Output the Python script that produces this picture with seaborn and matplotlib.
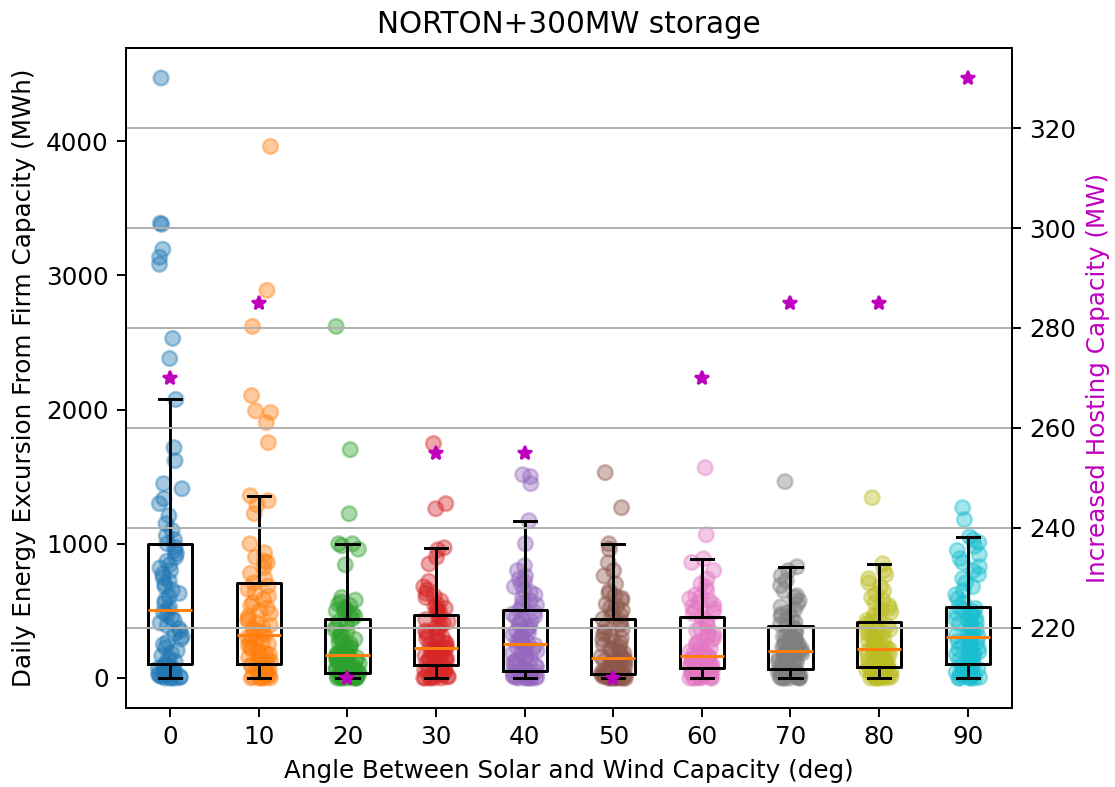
import numpy as np
import pandas as pd
import seaborn as sns
import matplotlib.pyplot as plt

# angle between solar and wind capacity (deg)
angles = [0, 10, 20, 30, 40, 50, 60, 70, 80, 90]

# increased hosting capacity per angle (MW)
hosting = [270, 285, 210, 255, 255, 210, 270, 285, 285, 330]

# daily energy excursion from firm capacity (MWh), one list per angle
exc_0 = [0, 0, 0, 0, 5, 8, 12, 15, 20, 25, 30, 38, 45, 50, 58, 65, 72, 80, 88, 96, 105,
         125, 145, 165, 185, 205, 225, 250, 270, 290, 310, 330, 350, 370, 390, 410, 430, 450, 470, 490, 507,
         530, 555, 580, 605, 630, 655, 680, 700, 725, 750, 775, 800, 820, 845, 870, 900, 925, 950, 975, 1000,
         1030, 1060, 1100, 1150, 1209, 1299, 1336, 1410, 1448, 1619, 1716, 2075,
         2380, 2530, 3082, 3134, 3194, 3380, 3388, 4470]
exc_10 = [0, 0, 0, 0, 0, 5, 10, 15, 20, 28, 35, 42, 50, 58, 65, 72, 80, 86, 92, 98, 104,
          115, 125, 135, 145, 155, 165, 175, 185, 195, 205, 215, 228, 240, 252, 264, 276, 288, 300, 310, 321,
          335, 350, 365, 380, 395, 410, 425, 440, 460, 480, 500, 520, 540, 560, 585, 610, 635, 660, 685, 709,
          740, 780, 820, 860, 870, 900, 933, 1000, 1224, 1290, 1321, 1358,
          1754, 1903, 1978, 1990, 2104, 2619, 2888, 3960]
exc_20 = [0, 0, 0, 0, 0, 0, 0, 2, 4, 6, 8, 10, 12, 15, 18, 21, 24, 27, 30, 34, 37,
          44, 51, 58, 65, 72, 79, 86, 93, 100, 108, 116, 124, 131, 138, 145, 151, 157, 162, 167, 172,
          182, 192, 202, 212, 222, 232, 242, 252, 264, 276, 288, 300, 315, 330, 345, 360, 380, 400, 420, 440,
          460, 470, 480, 490, 500, 510, 520, 540, 550, 567, 580, 600, 843, 960, 985, 1000, 1000,
          1224, 1701, 2619]
exc_30 = [0, 0, 0, 0, 0, 4, 8, 12, 17, 22, 28, 34, 40, 46, 52, 58, 64, 72, 80, 88, 97,
          104, 111, 118, 125, 132, 139, 146, 153, 160, 167, 174, 181, 188, 195, 202, 208, 213, 217, 221, 224,
          234, 244, 254, 264, 274, 284, 294, 304, 316, 328, 340, 352, 364, 376, 390, 405, 420, 435, 452, 470,
          490, 500, 510, 520, 530, 550, 575, 600, 610, 630, 657, 680, 720, 850, 900, 955, 970,
          1261, 1299, 1746]
exc_40 = [0, 0, 0, 0, 0, 0, 3, 6, 9, 12, 15, 18, 22, 26, 30, 34, 38, 42, 46, 49, 52,
          62, 72, 82, 92, 102, 112, 122, 132, 142, 152, 162, 172, 182, 192, 202, 212, 222, 232, 243, 254,
          265, 277, 289, 301, 313, 325, 337, 349, 361, 373, 385, 397, 410, 423, 436, 449, 462, 476, 491, 507,
          530, 545, 560, 575, 590, 620, 640, 650, 680, 700, 720, 739, 760, 800, 836, 1000, 1172,
          1448, 1500, 1515]
exc_50 = [0, 0, 0, 0, 0, 0, 0, 0, 2, 4, 6, 8, 10, 12, 14, 17, 20, 22, 25, 28, 30,
          36, 42, 48, 54, 60, 66, 72, 78, 84, 90, 96, 102, 108, 114, 120, 126, 132, 138, 144, 149,
          160, 172, 184, 196, 208, 220, 232, 244, 258, 272, 286, 300, 315, 330, 345, 362, 380, 400, 420, 440,
          460, 470, 490, 505, 520, 535, 550, 580, 595, 610, 630, 649, 700, 761, 800, 858, 960, 1000,
          1269, 1530]
exc_60 = [0, 0, 0, 0, 0, 0, 5, 10, 15, 20, 25, 30, 35, 40, 45, 50, 55, 60, 65, 70, 75,
          80, 85, 90, 95, 100, 105, 110, 115, 120, 125, 130, 135, 140, 144, 148, 152, 156, 159, 162, 164,
          175, 186, 197, 208, 220, 232, 244, 256, 270, 284, 298, 312, 326, 340, 355, 370, 388, 406, 430, 455,
          480, 490, 505, 515, 530, 545, 560, 575, 590, 605, 620, 649, 680, 700, 739, 800, 861, 888,
          1067, 1567]
exc_70 = [0, 0, 0, 0, 0, 0, 4, 8, 12, 16, 20, 25, 30, 35, 40, 45, 50, 55, 59, 63, 67,
          74, 81, 88, 95, 102, 109, 116, 123, 130, 137, 144, 151, 158, 165, 172, 179, 186, 192, 197, 201,
          208, 215, 222, 229, 236, 243, 250, 258, 266, 274, 282, 290, 299, 308, 318, 328, 340, 353, 370, 388,
          400, 415, 430, 445, 460, 475, 490, 510, 530, 550, 575, 600, 612, 650, 690, 724, 760, 800, 828,
          1463]
exc_80 = [0, 0, 0, 0, 0, 0, 5, 10, 15, 20, 26, 32, 38, 44, 50, 56, 62, 67, 72, 77, 82,
          89, 96, 103, 110, 117, 124, 131, 138, 145, 152, 159, 166, 173, 180, 187, 194, 201, 207, 212, 216,
          224, 232, 240, 248, 256, 264, 272, 281, 290, 299, 308, 318, 328, 338, 350, 362, 375, 389, 403, 418,
          430, 445, 460, 475, 490, 505, 520, 540, 560, 580, 600, 625, 650, 680, 710, 740, 770, 800, 851,
          1343]
exc_90 = [0, 0, 0, 0, 0, 5, 10, 15, 20, 26, 32, 38, 45, 52, 60, 68, 76, 84, 92, 98, 104,
          114, 124, 134, 144, 154, 164, 174, 184, 194, 204, 214, 224, 234, 244, 254, 264, 274, 284, 295, 306,
          317, 328, 339, 350, 361, 372, 383, 394, 405, 416, 427, 438, 449, 460, 472, 484, 496, 508, 519, 530,
          560, 590, 620, 650, 680, 710, 740, 770, 800, 830, 860, 890, 920, 950, 980, 1010, 1030, 1052,
          1180, 1269]

excursions = [exc_0, exc_10, exc_20, exc_30, exc_40, exc_50, exc_60, exc_70, exc_80, exc_90]

df = pd.DataFrame({
    'angle': np.repeat(angles, [len(v) for v in excursions]),
    'excursion': np.concatenate(excursions),
})

dpi = 177
fig, ax = plt.subplots(figsize=(1115 / dpi, 787 / dpi), dpi=dpi)
fig.subplots_adjust(left=0.113, right=0.9076, top=0.939, bottom=0.1004)

np.random.seed(3)
sns.stripplot(data=df, x='angle', y='excursion', hue='angle', palette='tab10',
              jitter=0.14, size=6, alpha=0.4, linewidth=1, edgecolor='face',
              legend=False, ax=ax)
n_coll = len(ax.collections)
sns.boxplot(data=df, x='angle', y='excursion', fill=False, color='black',
            width=0.5, showfliers=False, whis=1.5, linewidth=1.2,
            medianprops={'color': 'C1'}, ax=ax)
# box on top of the points
for line in ax.lines:
    line.set_zorder(3)
for patch in ax.patches:
    patch.set_zorder(3)

ax.set_title('NORTON+300MW storage')
ax.set_xlabel('Angle Between Solar and Wind Capacity (deg)')
ax.set_ylabel('Daily Energy Excursion From Firm Capacity (MWh)')

ax2 = ax.twinx()
ax2.plot(np.arange(len(angles)), hosting, 'm*', linestyle='none')
ax2.set_ylabel('Increased Hosting Capacity (MW)', color='m')
ax2.grid(axis='y')
ax.set_xlim(-0.5, len(angles) - 0.5)

fig.savefig('out.png', dpi=dpi)
